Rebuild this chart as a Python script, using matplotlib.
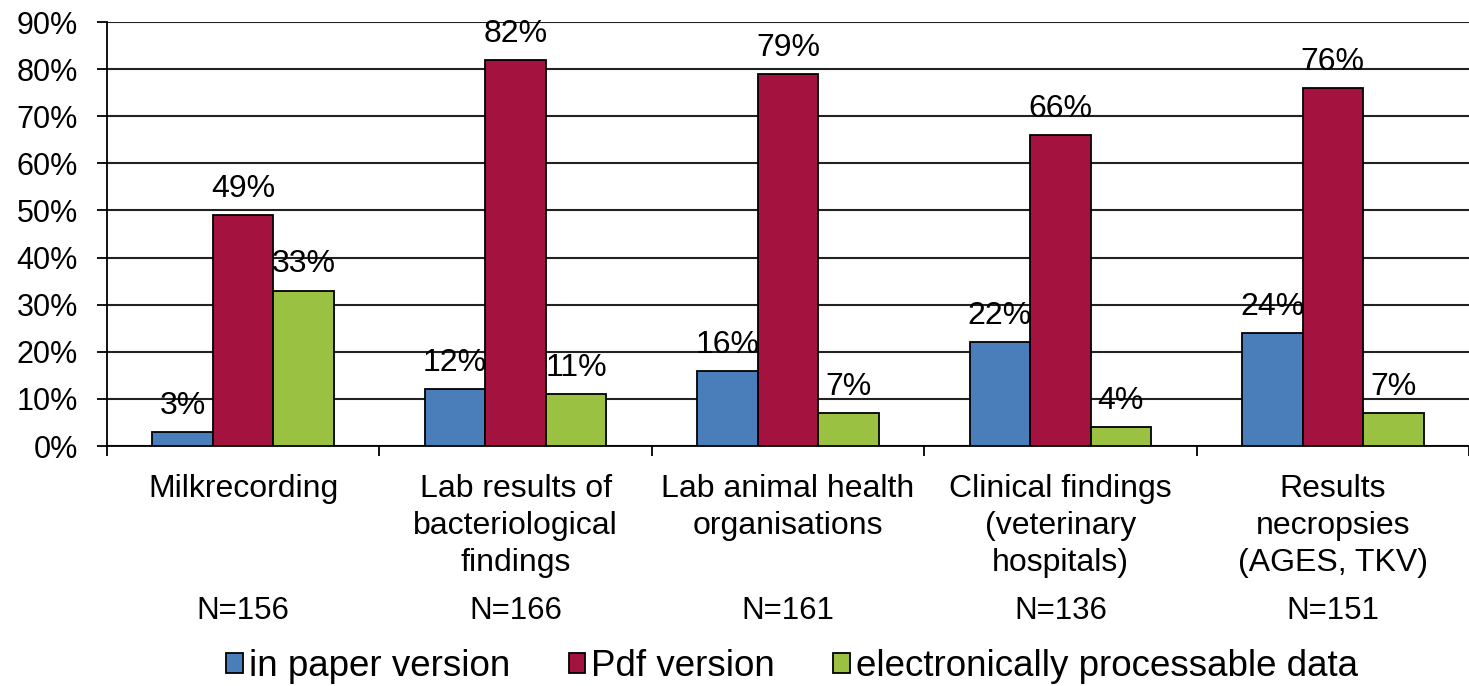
import numpy as np
import matplotlib
matplotlib.use("Agg")
import matplotlib.pyplot as plt
from matplotlib.ticker import PercentFormatter

plt.rcParams['font.family'] = ['Liberation Sans', 'DejaVu Sans']

# data
categories = ["Milkrecording",
              "Lab results of\nbacteriological\nfindings",
              "Lab animal health\norganisations",
              "Clinical findings\n(veterinary\nhospitals)",
              "Results\nnecropsies\n(AGES, TKV)"]
n_labels = ["N=156", "N=166", "N=161", "N=136", "N=151"]
series_names = ["in paper version", "Pdf version", "electronically processable data"]
paper = [3, 12, 16, 22, 24]
pdf = [49, 82, 79, 66, 76]
electronic = [33, 11, 7, 4, 7]
colors = ["#4A7EBB", "#A4123F", "#9BC142"]

fig = plt.figure(figsize=(14.69, 6.86), dpi=100)
ax = fig.add_axes([107 / 1469, 1 - 446 / 686, 1 - 107 / 1469, (446 - 22) / 686])

x = np.arange(len(categories))
w = 0.222
for i, (vals, name, c) in enumerate(zip([paper, pdf, electronic], series_names, colors)):
    xs = x + (i - 1) * w
    ax.bar(xs, vals, width=w, color=c, edgecolor="black", linewidth=1.3, label=name, zorder=3)
    for xi, v in zip(xs, vals):
        ax.annotate(f"{v}%", (xi, v), xytext=(0, 13), textcoords="offset points",
                    ha="center", va="baseline", fontsize=23, zorder=4)

ax.set_ylim(0, 90)
ax.set_xlim(-0.5, (1469 - 107) / 275 - 0.5)
ax.set_yticks(np.arange(0, 91, 10))
ax.yaxis.set_major_formatter(PercentFormatter(decimals=0))
ax.yaxis.grid(True, color="#222222", linewidth=1.5, zorder=0)
ax.set_axisbelow(True)

# category boundaries as ticks, labels placed by hand
ax.set_xticks(np.arange(-0.5, len(categories), 1.0))
ax.set_xticklabels([])
ax.tick_params(axis="x", direction="out", length=7, width=1.3, color="black")
ax.tick_params(axis="y", direction="out", length=7, width=1.3, labelsize=22, pad=14)

for sp in ["top", "right"]:
    ax.spines[sp].set_visible(False)
ax.spines["left"].set_linewidth(1.3)
ax.spines["bottom"].set_linewidth(1.3)

for xi, cat, nl in zip(x, categories, n_labels):
    ax.annotate(cat, (xi, 0), xycoords=("data", "axes fraction"), xytext=(0, -20),
                textcoords="offset points", ha="center", va="top", fontsize=23,
                linespacing=1.3)
    ax.annotate(nl, (xi, 0), xycoords=("data", "axes fraction"), xytext=(0, -108),
                textcoords="offset points", ha="center", va="top", fontsize=22.5)

fig.legend(loc="center", bbox_to_anchor=(792 / 1469, 1 - 667 / 686), ncol=3, frameon=False,
           fontsize=26.5, handlelength=0.45, handleheight=0.45, handletextpad=0.15,
           columnspacing=1.6, borderpad=0)

fig.savefig("out.png", dpi=100)
